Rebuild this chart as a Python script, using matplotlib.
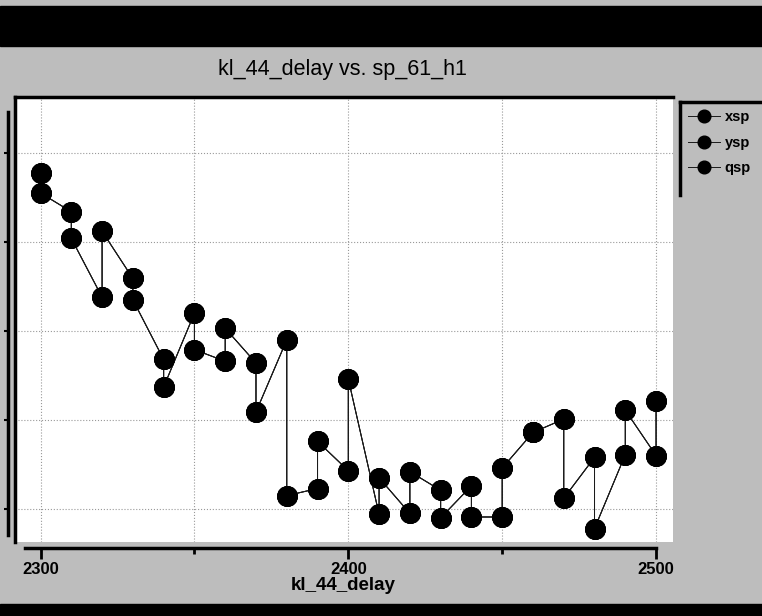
import matplotlib.pyplot as plt
from matplotlib.lines import Line2D
from matplotlib.patches import Rectangle

plt.rcParams['font.family'] = ['Liberation Sans', 'DejaVu Sans']

# kl_44_delay: dos lecturas por cada paso del barrido
kl_44_delay = [2300, 2300, 2310, 2310, 2320, 2320, 2330, 2330, 2340, 2340,
               2350, 2350, 2360, 2360, 2370, 2370, 2380, 2380, 2390, 2390,
               2400, 2400, 2410, 2410, 2420, 2420, 2430, 2430, 2440, 2440,
               2450, 2450, 2460, 2460, 2470, 2470, 2480, 2480, 2490, 2490,
               2500, 2500]
# sp_61_h1 (las tres series se ven superpuestas en el original)
xsp = [4.78, 4.55, 4.34, 4.04, 3.38, 4.12, 3.59, 3.35, 2.68, 2.37,
       3.20, 2.79, 2.66, 3.03, 2.64, 2.09, 2.90, 1.15, 1.23, 1.76,
       1.43, 2.46, 0.94, 1.35, 0.95, 1.42, 1.21, 0.90, 1.26, 0.91,
       0.91, 1.46, 1.86, 1.86, 2.01, 1.12, 1.58, 0.78, 1.61, 2.11,
       1.60, 2.21]
ysp = list(xsp)
qsp = list(xsp)
series = [xsp, ysp, qsp]
labels = ["xsp", "ysp", "qsp"]

W, H = 762, 616
fig = plt.figure(figsize=(W/100, H/100), dpi=100, facecolor='#bdbdbd')

# bandas negras arriba y abajo
fig.add_artist(Rectangle((0, 1-46/H), 1, 40/H, color='black', transform=fig.transFigure))
fig.add_artist(Rectangle((0, 0), 1, 12/H, color='black', transform=fig.transFigure))

ax = fig.add_axes([15/W, 1-542/H, (673-15)/W, (542-97)/H])
ax.set_facecolor('white')

for i in range(3):
    ax.plot(kl_44_delay, series[i], color='#1a1a1a', lw=0.7, marker='o', ms=14,
            mfc='black', mec='black', label=labels[i])

ax.set_xlim(2291.7, 2505.5)
ax.set_ylim(0.629, 5.629)

ax.set_xticks([2300, 2400, 2500])
ax.set_xticks([2350, 2450], minor=True)
ax.set_yticks([1, 2, 3, 4, 5])
ax.grid(which='both', axis='x', ls=':', color='#999999', lw=0.8)
ax.grid(which='major', axis='y', ls=':', color='#999999', lw=0.8)

ax.spines['top'].set_visible(False)
ax.spines['right'].set_visible(False)
ax.spines['bottom'].set_position(('outward', 4.5))
ax.spines['bottom'].set_bounds(2295, 2500)
ax.spines['bottom'].set_linewidth(2.5)
ax.spines['left'].set_position(('outward', 5))
ax.spines['left'].set_bounds(0.71, 5.46)
ax.spines['left'].set_linewidth(2.5)

ax.tick_params(axis='x', which='major', length=8, width=2, pad=2, labelsize=12)
ax.tick_params(axis='x', which='minor', length=4, width=2)
ax.tick_params(axis='y', length=3, width=1.5, labelleft=False)
for t in ax.get_xticklabels():
    t.set_fontweight('bold')

# marco del area de trazado (solo izquierda y arriba)
ax.plot([0, 0], [0, 1], transform=ax.transAxes, color='black', lw=2.5, clip_on=False)
ax.plot([0, 1], [1, 1], transform=ax.transAxes, color='black', lw=2.5, clip_on=False)

fig.text(342/W, 1-70/H, "kl_44_delay vs. sp_61_h1", ha='center', va='center', fontsize=15.5)
fig.text(343/W, 1-586/H, "kl_44_delay", ha='center', va='center', fontsize=13.5, fontweight='bold')

# leyenda
fig.add_artist(Line2D([680/W, 680/W], [1-102/H, 1-195/H], color='black', lw=2.5))
fig.add_artist(Line2D([680/W, 1], [1-102/H, 1-102/H], color='black', lw=2.5))
leg = fig.legend(loc='upper left', bbox_to_anchor=(688/W, 1-110/H), frameon=False,
                 fontsize=10.5, markerscale=0.65, handlelength=2.2, handletextpad=0.3,
                 labelspacing=0.8, borderpad=0, borderaxespad=0)
for t in leg.get_texts():
    t.set_fontweight('bold')

fig.savefig("out.png", dpi=100, facecolor=fig.get_facecolor())
